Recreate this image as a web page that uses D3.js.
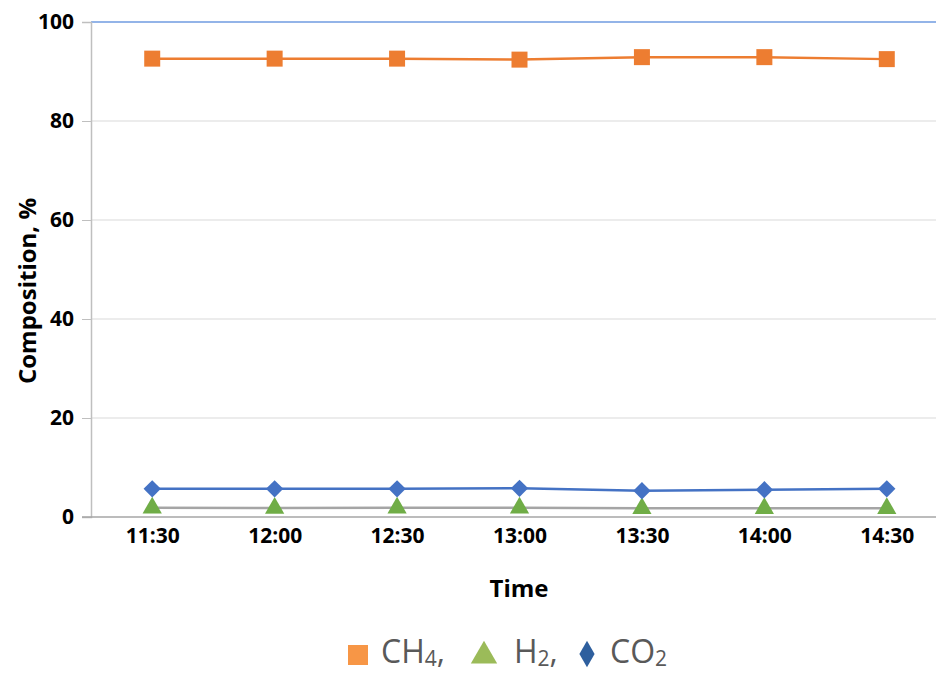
<!DOCTYPE html>
<html>
<head>
<meta charset="utf-8">
<script src="https://cdn.jsdelivr.net/npm/d3@7"></script>
<style>
  body { margin: 0; background: #fff; }
  text { font-family: "Open Sans", "Noto Sans", sans-serif; }
</style>
</head>
<body>
<svg id="chart"></svg>
<script>
const times = ["11:30", "12:00", "12:30", "13:00", "13:30", "14:00", "14:30"];
const ch4 = [92.6, 92.6, 92.6, 92.4, 92.9, 92.9, 92.5];
const h2 = [1.85, 1.8, 1.85, 1.85, 1.75, 1.75, 1.75];
const co2 = [5.7, 5.7, 5.7, 5.8, 5.3, 5.5, 5.7];
const yTicks = [0, 20, 40, 60, 80, 100];

const width = 936, height = 674;
const margin = { top: 22, left: 91, bottom: 517, right: 948 };

const svg = d3.select("#chart").attr("width", width).attr("height", height);

const x = d3.scalePoint().domain(times).range([margin.left, margin.right]).padding(0.5);
const y = d3.scaleLinear().domain([0, 100]).range([margin.bottom, margin.top]);

// diamond with equal width and height
const diamond = {
  draw(ctx, size) {
    const r = Math.sqrt(size / 2);
    ctx.moveTo(0, -r); ctx.lineTo(r, 0); ctx.lineTo(0, r); ctx.lineTo(-r, 0); ctx.closePath();
  }
};

// gridlines
svg.append("g")
  .selectAll("line")
  .data(yTicks.filter(d => d > 0))
  .join("line")
  .attr("x1", margin.left).attr("x2", width)
  .attr("y1", d => y(d)).attr("y2", d => y(d))
  .attr("stroke", d => d === 100 ? "#6f9be0" : "#d9d9d9")
  .attr("stroke-width", d => d === 100 ? 1.5 : 1);

// y axis
const yAxis = svg.append("g")
  .attr("transform", `translate(${margin.left},0)`)
  .call(d3.axisLeft(y).tickValues(yTicks).tickSize(9).tickPadding(8));
yAxis.select(".domain").attr("stroke", "#bfbfbf").attr("stroke-width", 1.5);
yAxis.selectAll(".tick line").attr("stroke", "#bfbfbf");
yAxis.selectAll(".tick text")
  .attr("font-size", 21).attr("font-weight", "bold").attr("fill", "#000");

// x axis
const xAxis = svg.append("g")
  .attr("transform", `translate(0,${margin.bottom})`)
  .call(d3.axisBottom(x).tickSize(0).tickPadding(11));
xAxis.select(".domain").remove();
svg.append("line")
  .attr("x1", 82).attr("x2", width)
  .attr("y1", margin.bottom).attr("y2", margin.bottom)
  .attr("stroke", "#a6a6a6").attr("stroke-width", 1.5);
xAxis.selectAll(".tick text")
  .attr("font-size", 21).attr("font-weight", "bold").attr("fill", "#000");

// axis titles
svg.append("text")
  .attr("x", 519).attr("y", 597)
  .attr("text-anchor", "middle")
  .attr("font-size", 24).attr("font-weight", "bold")
  .text("Time");
svg.append("text")
  .attr("transform", "translate(36,291) rotate(-90)")
  .attr("text-anchor", "middle")
  .attr("font-size", 24).attr("font-weight", "bold")
  .text("Composition, %");

const series = [
  { name: "h2", values: h2, line: "#a5a5a5", fill: "#70ad47", symbol: d3.symbolTriangle, size: 160 },
  { name: "co2", values: co2, line: "#4472c4", fill: "#4472c4", symbol: diamond, size: 150 },
  { name: "ch4", values: ch4, line: "#ed7d31", fill: "#ed7d31", symbol: d3.symbolSquare, size: 256 }
];

const line = d3.line()
  .x((d, i) => x(times[i]))
  .y(d => y(d));

series.forEach(s => {
  svg.append("path")
    .datum(s.values)
    .attr("fill", "none")
    .attr("stroke", s.line)
    .attr("stroke-width", 2.5)
    .attr("d", line);
});

series.forEach(s => {
  svg.append("g")
    .selectAll("path")
    .data(s.values)
    .join("path")
    .attr("transform", (d, i) => `translate(${x(times[i])},${y(d)})`)
    .attr("d", d3.symbol().type(s.symbol).size(s.size))
    .attr("fill", s.fill);
});

// legend
const legend = svg.append("g");
const legendItems = [
  { sym: d3.symbolSquare, size: 400, color: "#f79646", cx: 358, cy: 655, main: "CH", sub: "4", tx: 381 },
  { sym: d3.symbolTriangle, size: 300, color: "#9bbb59", cx: 484, cy: 656, main: "H", sub: "2", tx: 514 },
  { sym: d3.symbolDiamond, size: 200, color: "#2e5f9e", cx: 587, cy: 654, main: "CO", sub: "2", tx: 610 }
];
legendItems.forEach((it, i) => {
  legend.append("path")
    .attr("transform", `translate(${it.cx},${it.cy})`)
    .attr("d", d3.symbol().type(it.sym).size(it.size))
    .attr("fill", it.color);
  const t = legend.append("text")
    .attr("x", it.tx).attr("y", 663)
    .attr("font-size", 32).attr("fill", "#595959");
  t.append("tspan").text(it.main);
  t.append("tspan").attr("font-size", 21).attr("dy", 3).text(it.sub);
  if (i < legendItems.length - 1) t.append("tspan").attr("dy", -3).text(",");
});
</script>
</body>
</html>
